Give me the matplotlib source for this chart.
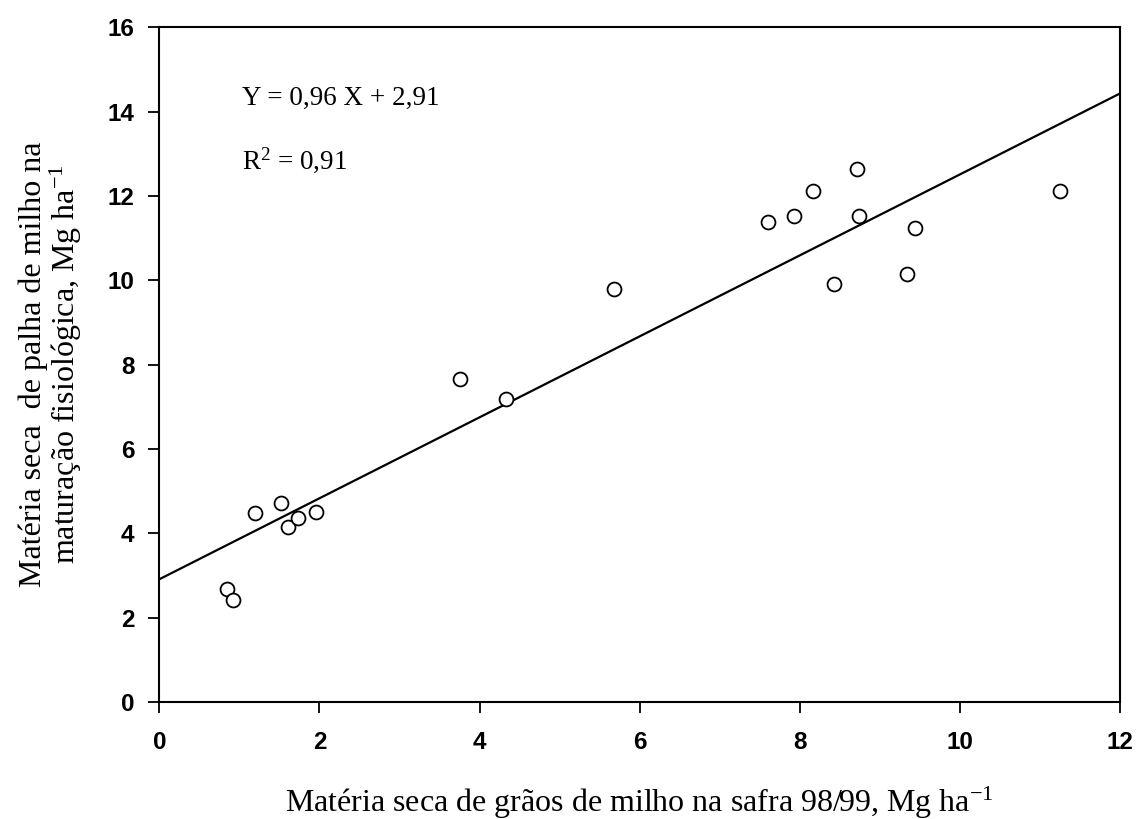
import numpy as np
import matplotlib
matplotlib.use("Agg")
import matplotlib.pyplot as plt

plt.rcParams['mathtext.fontset'] = 'custom'
plt.rcParams['mathtext.rm'] = 'Liberation Serif'
plt.rcParams['mathtext.it'] = 'Liberation Serif:italic'

# grain dry matter (x) vs straw dry matter (y), Mg/ha
graos = [0.85, 0.92, 1.19, 1.52, 1.61, 1.73, 1.96, 3.75, 4.33, 5.68,
         7.60, 7.93, 8.16, 8.72, 8.74, 9.44, 9.34, 8.43, 11.25]
palha = [2.68, 2.41, 4.49, 4.71, 4.14, 4.37, 4.51, 7.66, 7.18, 9.79,
         11.38, 11.52, 12.12, 12.63, 11.53, 11.23, 10.15, 9.90, 12.12]

# fitted regression
a, b = 0.96, 2.91
r2 = 0.91

x_ticks = [0, 2, 4, 6, 8, 10, 12]
y_ticks = [0, 2, 4, 6, 8, 10, 12, 14, 16]

serif = 'Liberation Serif'
sans = 'Liberation Sans'

fig = plt.figure(figsize=(11.39, 8.19), dpi=100)
ax = fig.add_axes([0.1399, 0.1429, 0.8434, 0.8238])

xl = np.array([0, 12])
ax.plot(xl, a * xl + b, color='black', lw=1.6, zorder=2)
ax.plot(graos, palha, 'o', ms=10, mfc='white', mec='black', mew=1.3, zorder=3)

ax.set_xlim(0, 12)
ax.set_ylim(0, 16)
ax.set_xticks(x_ticks)
ax.set_yticks(y_ticks)
ax.tick_params(direction='out', length=8, width=1.3, labelsize=17.5, pad=10)
ax.tick_params(axis='x', pad=13)
for lab in ax.get_xticklabels() + ax.get_yticklabels():
    lab.set_fontfamily(sans)
    lab.set_fontweight('bold')
for s in ax.spines.values():
    s.set_linewidth(1.5)

ax.text(1.03, 14.16, f'Y = 0,{int(a * 100)} X + {b:.2f}'.replace('.', ','),
        fontsize=19.5, family=serif, va='baseline')
ax.text(1.03, 12.66, r'R$^2$ = ' + f'{r2:.2f}'.replace('.', ','),
        fontsize=19.5, family=serif, va='baseline')

ax.set_xlabel(r'Matéria seca de grãos de milho na safra 98/99, Mg ha$^{-1}$',
              fontsize=23, family=serif, va='baseline')
ax.xaxis.set_label_coords(0.5, -0.163)
ax.set_ylabel('Matéria seca  de palha de milho na\n' + r'maturação fisiológica, Mg ha$^{-1}$',
              fontsize=23, family=serif, linespacing=1.0)
ax.yaxis.set_label_coords(-0.078, 0.5)

fig.savefig('out.png', dpi=100)
